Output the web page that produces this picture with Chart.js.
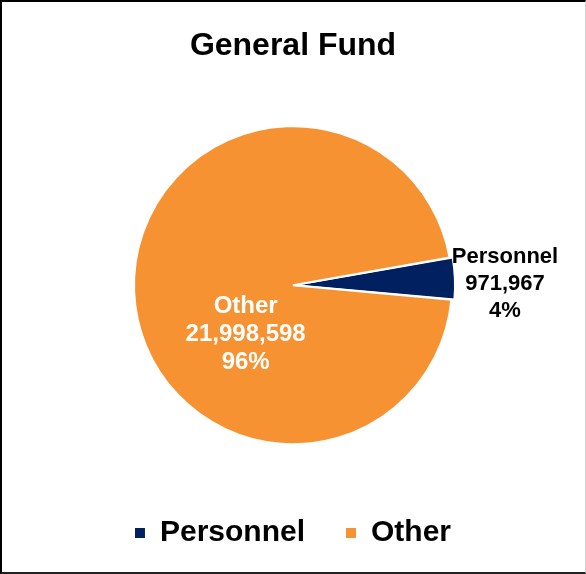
<!DOCTYPE html>
<html>
<head>
<meta charset="utf-8">
<script src="https://cdn.jsdelivr.net/npm/chart.js@4/dist/chart.umd.min.js"></script>
<style>
  html, body { margin: 0; padding: 0; background: #fff; }
  #wrap { position: relative; width: 586px; height: 574px; }
  #c { position: absolute; left: 0; top: 0; }
  #frame { position: absolute; left: 0; top: 0; width: 586px; height: 574px; box-sizing: border-box;
           border-left: 2px solid #000; border-top: 2px solid #000; border-bottom: 2px solid #222; border-right: 1px solid #d0d0d0; pointer-events: none; }
</style>
</head>
<body>
<div id="wrap">
  <canvas id="c" width="586" height="574"></canvas>
  <div id="frame"></div>
</div>
<script>
const chartTitle = 'General Fund';
const categories = ['Personnel', 'Other'];
const values = [971967, 21998598];
const percentLabels = ['4%', '96%'];
const sliceColors = ['#002060', '#F79232'];

const FONT = "'Liberation Sans', Arial, Helvetica, sans-serif";

const fmt = v => v.toLocaleString('en-US');

const sliceLabels = {
  id: 'sliceLabels',
  afterDatasetsDraw(chart) {
    const ctx = chart.ctx;
    const arcs = chart.getDatasetMeta(0).data;
    ctx.save();
    ctx.textAlign = 'center';
    ctx.textBaseline = 'middle';
    {
      const a = arcs[0];
      const p = a.getProps(['x', 'y', 'outerRadius'], true);
      const cx = p.x + p.outerRadius + 53;
      const cy = p.y - 1;
      ctx.fillStyle = '#000';
      ctx.font = 'bold 22px ' + FONT;
      const lines = [categories[0], fmt(values[0]), percentLabels[0]];
      const lh = 27;
      lines.forEach((t, i) => ctx.fillText(t, cx, cy + (i - 1) * lh));
    }
    {
      const a = arcs[1];
      const p = a.getProps(['x', 'y', 'outerRadius'], true);
      const ang = 135 * Math.PI / 180;
      const d = p.outerRadius * 0.43;
      const cx = p.x + Math.cos(ang) * d + 1;
      const cy = p.y + Math.sin(ang) * d + 1;
      ctx.fillStyle = '#fff';
      ctx.font = 'bold 24px ' + FONT;
      const lines = [categories[1], fmt(values[1]), percentLabels[1]];
      const lh = 28;
      lines.forEach((t, i) => ctx.fillText(t, cx, cy + (i - 1) * lh));
    }
    ctx.restore();
  }
};

new Chart(document.getElementById('c'), {
  type: 'pie',
  data: {
    labels: categories,
    datasets: [{
      data: values,
      backgroundColor: sliceColors,
      borderColor: '#ffffff',
      borderWidth: 2,
      offset: [7, 0]
    }]
  },
  options: {
    responsive: false,
    animation: false,
    rotation: 80,
    radius: 159,
    layout: { padding: { top: 0, bottom: 16, left: 0, right: 0 } },
    plugins: {
      tooltip: { enabled: false },
      title: {
        display: true,
        text: chartTitle,
        color: '#000',
        font: { family: FONT, size: 32, weight: 'bold' },
        padding: { top: 27, bottom: 28 }
      },
      legend: {
        display: true,
        position: 'bottom',
        labels: {
          color: '#000',
          font: { family: FONT, size: 30, weight: 'bold' },
          boxWidth: 10,
          boxHeight: 10,
          padding: 41,
          generateLabels(chart) {
            const items = Chart.overrides.pie.plugins.legend.labels.generateLabels(chart);
            return items.map(it => Object.assign(it, { lineWidth: 0, strokeStyle: 'rgba(0,0,0,0)' }));
          }
        }
      }
    }
  },
  plugins: [sliceLabels]
});
</script>
</body>
</html>
